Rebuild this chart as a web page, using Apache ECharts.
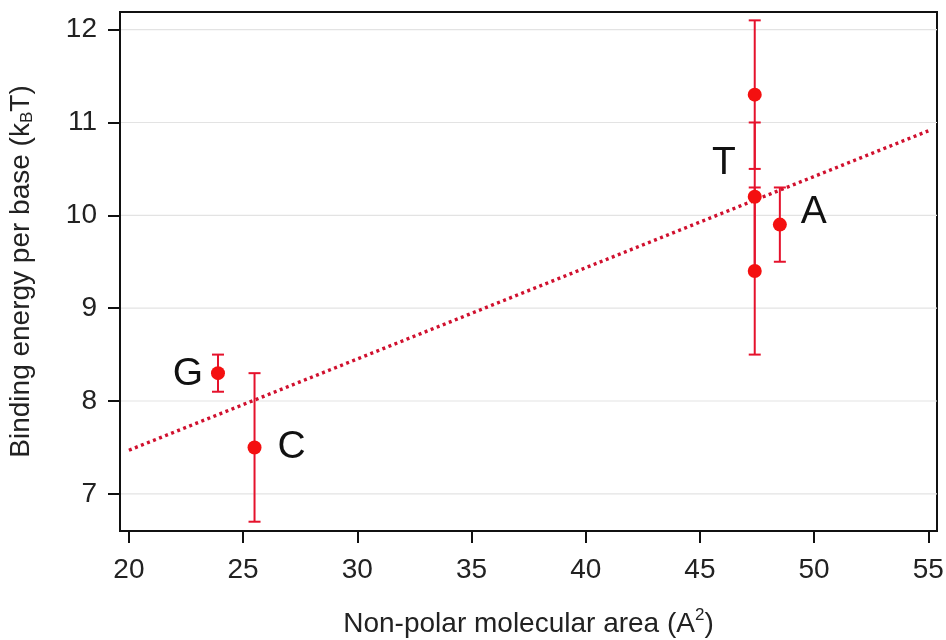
<!DOCTYPE html>
<html>
<head>
<meta charset="utf-8">
<title>Binding energy vs non-polar area</title>
<script src="https://cdn.jsdelivr.net/npm/echarts@6/dist/echarts.min.js"></script>
<style>
  html, body { margin: 0; padding: 0; background: #fff; }
  #chart { width: 946px; height: 640px; }
</style>
</head>
<body>
<div id="chart"></div>
<script>
// Measured points: non-polar area (A^2), binding energy (kBT) and its uncertainty
const areas    = [23.9, 25.5, 47.4, 47.4, 47.4, 48.5];
const energies = [8.3, 7.5, 11.3, 10.2, 9.4, 9.9];
const errors   = [0.2, 0.8, 0.8, 0.8, 0.9, 0.4];

// Base names and which measured point each name sits beside
const baseNames   = ['G', 'C', 'T', 'A'];
const basePointIx = [0, 1, 3, 5];

// Linear fit end points
const fitAreas    = [20, 55];
const fitEnergies = [7.47, 10.91];

// Axis ticks
const xTicks = [20, 25, 30, 35, 40, 45, 50, 55];
const yTicks = [7, 8, 9, 10, 11, 12];

const RED = '#f41010';
const BAR = '#e5122c';
const FONT = '"Liberation Sans", Arial, Helvetica, sans-serif';

// Where each base name is placed relative to its point
const namePlacement = {
  G: { position: 'left',  distance: 8,  offset: [0, 1] },
  C: { position: 'right', distance: 16, offset: [0, 0] },
  T: { position: 'left',  distance: 12, offset: [0, -34] },
  A: { position: 'right', distance: 14, offset: [0, -12] }
};

const errorData = areas.map((x, i) => [x, energies[i] - errors[i], energies[i] + errors[i]]);
const pointData = areas.map((x, i) => [x, energies[i]]);
const nameData = baseNames.map((n, k) => {
  const i = basePointIx[k];
  const p = namePlacement[n];
  return {
    value: [areas[i], energies[i]],
    name: n,
    label: { position: p.position, distance: p.distance, offset: p.offset }
  };
});

const chart = echarts.init(document.getElementById('chart'), null, { renderer: 'canvas' });

chart.setOption({
  animation: false,
  backgroundColor: '#ffffff',
  grid: {
    left: 120, right: 9, top: 12, bottom: 109,
    outerBoundsMode: 'none',
    containLabel: false,
    show: true, borderColor: '#111', borderWidth: 2, backgroundColor: 'transparent'
  },
  xAxis: {
    type: 'value',
    min: 19.61, max: 55.38,
    name: 'Non-polar molecular area (A{sup|2})',
    nameLocation: 'middle',
    nameGap: 76,
    nameTextStyle: {
      fontFamily: FONT, fontSize: 28, color: '#222',
      rich: { sup: { fontFamily: FONT, fontSize: 17, color: '#222', verticalAlign: 'top', padding: [0, 0, 18, 0] } }
    },
    axisLine: { show: true, onZero: false, lineStyle: { color: '#111', width: 2 } },
    axisTick: { show: true, length: 12, inside: false, customValues: xTicks, lineStyle: { color: '#111', width: 2 } },
    axisLabel: { customValues: xTicks, margin: 25, fontFamily: FONT, fontSize: 28, color: '#222' },
    splitLine: { show: false }
  },
  yAxis: {
    type: 'value',
    min: 6.6, max: 12.19,
    name: 'Binding energy per base (k{sub|B}T)',
    nameLocation: 'middle',
    nameGap: 84,
    nameTextStyle: {
      fontFamily: FONT, fontSize: 28, color: '#222',
      rich: { sub: { fontFamily: FONT, fontSize: 17, color: '#222', verticalAlign: 'bottom', padding: [12, 0, 0, 0] } }
    },
    axisLine: { show: true, onZero: false, lineStyle: { color: '#111', width: 2 } },
    axisTick: { show: true, length: 12, inside: false, customValues: yTicks, lineStyle: { color: '#111', width: 2 } },
    axisLabel: { customValues: yTicks, margin: 23, fontFamily: FONT, fontSize: 28, color: '#222' },
    splitLine: { show: false }
  },
  series: [
    {
      // horizontal reference lines at each y tick
      type: 'custom',
      silent: true,
      z: 0,
      data: yTicks.map(v => [v]),
      encode: { y: 0 },
      renderItem(params, api) {
        const y = api.coord([0, api.value(0)])[1];
        const cs = params.coordSys;
        return {
          type: 'line',
          shape: { x1: cs.x, y1: y, x2: cs.x + cs.width, y2: y },
          style: { stroke: '#e3e3e3', lineWidth: 1.2 }
        };
      }
    },
    {
      // least-squares fit
      type: 'line',
      data: fitAreas.map((x, i) => [x, fitEnergies[i]]),
      symbol: 'none',
      silent: true,
      z: 1,
      lineStyle: { color: '#d0102e', width: 3.4, type: [3, 3.5] }
    },
    {
      // error bars with caps
      type: 'custom',
      silent: true,
      z: 2,
      data: errorData,
      encode: { x: 0, y: [1, 2] },
      renderItem(params, api) {
        const x = api.value(0);
        const lo = api.coord([x, api.value(1)]);
        const hi = api.coord([x, api.value(2)]);
        const cap = 6;
        const st = { stroke: BAR, lineWidth: 2 };
        return {
          type: 'group',
          children: [
            { type: 'line', shape: { x1: lo[0], y1: lo[1], x2: hi[0], y2: hi[1] }, style: st },
            { type: 'line', shape: { x1: hi[0] - cap, y1: hi[1], x2: hi[0] + cap, y2: hi[1] }, style: st },
            { type: 'line', shape: { x1: lo[0] - cap, y1: lo[1], x2: lo[0] + cap, y2: lo[1] }, style: st }
          ]
        };
      }
    },
    {
      type: 'scatter',
      data: pointData,
      symbol: 'circle',
      symbolSize: 14,
      z: 3,
      itemStyle: { color: RED, opacity: 1 }
    },
    {
      // base names beside the points
      type: 'scatter',
      data: nameData,
      symbolSize: 14,
      z: 4,
      silent: true,
      itemStyle: { color: 'rgba(0,0,0,0)', opacity: 1 },
      label: {
        show: true,
        formatter: p => p.name,
        fontFamily: FONT,
        fontSize: 39,
        color: '#111',
        opacity: 1
      }
    }
  ]
});
</script>
</body>
</html>
